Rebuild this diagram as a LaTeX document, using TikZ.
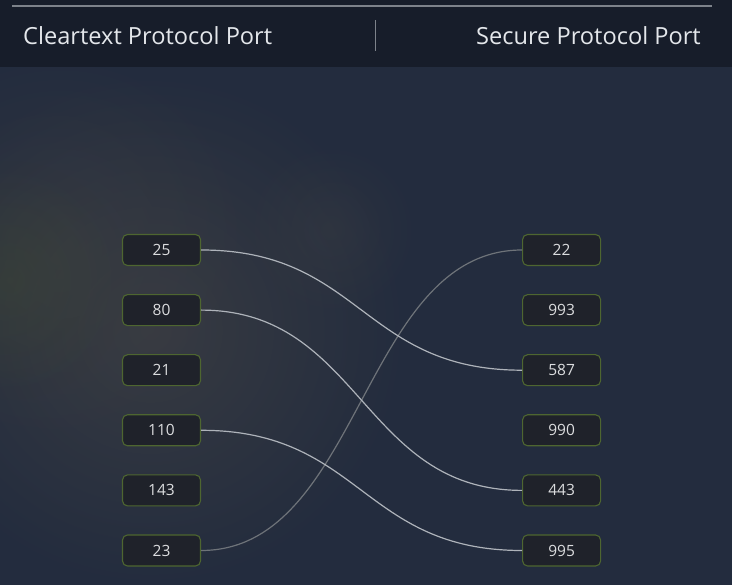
\documentclass[tikz,border=0pt]{standalone}
\usepackage{fontspec}
\setmainfont{Open Sans}
\usepackage{xcolor}
\usepackage{tikz}
\usetikzlibrary{positioning,fadings}
\definecolor{cHeadBg}{HTML}{171D2A}
\definecolor{cBodyBg}{HTML}{232C3E}
\definecolor{cHaze}{HTML}{3D3F43}
\definecolor{cHazeG}{HTML}{3E4832}
\definecolor{cRule}{HTML}{7D828A}
\definecolor{cTitle}{HTML}{E4E7EB}
\definecolor{cPort}{HTML}{1F222A}
\definecolor{cPortB}{HTML}{4E6630}
\definecolor{cPortT}{HTML}{DCDDDF}
\definecolor{cLink}{HTML}{AEB3BA}
\definecolor{cLinkDim}{HTML}{6E7379}
\tikzfading[name=blob,inner color=transparent!0,outer color=transparent!100]

\begin{document}
\begin{tikzpicture}[
  x=1pt,y=-1pt,
  node distance=28pt and 321pt,
  port/.style={rounded corners=5pt,draw=cPortB,fill=cPort,line width=1.1pt,
    minimum width=78pt,minimum height=31pt,inner sep=0pt,text=cPortT,font=\fontsize{15.5}{17}\selectfont},
  coltitle/.style={text=cTitle,font=\fontsize{23.6}{28}\selectfont,inner sep=0pt},
  link/.style={draw=cLink,line width=1.2pt},
  dimlink/.style={draw=cLinkDim,line width=1.2pt},
  swoop/.style={out=0,in=180,distance=160pt},
]
\useasboundingbox (0,0) rectangle (732,585);

% ---------------------------------------------------------------------
% background and header band
% ---------------------------------------------------------------------
\fill[cBodyBg] (0,67) rectangle (732,585);
\fill[cHaze,path fading=blob,fill opacity=0.8] (150,330) circle (260);
\fill[cHaze,path fading=blob,fill opacity=0.5] (60,250) circle (200);
\fill[cHazeG,path fading=blob,fill opacity=0.4] (10,280) circle (120);
\fill[cHaze,path fading=blob,fill opacity=0.35] (330,230) circle (90);
\fill[cHeadBg] (0,0) rectangle (732,67);
\draw[cRule,line width=1.2pt] (12,6) -- (712,6);

\node[coltitle,anchor=west] (clearTitle) at (23,36) {Cleartext Protocol Port};
\node[coltitle,anchor=east] (secureTitle) at (701,36) {Secure Protocol Port};
\draw[cRule,line width=0.8pt] (375,20) -- (375,51);

% ---------------------------------------------------------------------
% port columns
% ---------------------------------------------------------------------
\node[port] (p25) at (161.5,250) {25};
\node[port,below=of p25] (p80) {80};
\node[port,below=of p80] (p21) {21};
\node[port,below=of p21] (p110) {110};
\node[port,below=of p110] (p143) {143};
\node[port,below=of p143] (p23) {23};

\node[port,right=of p25] (p22) {22};
\node[port,right=of p80] (p993) {993};
\node[port,right=of p21] (p587) {587};
\node[port,right=of p110] (p990) {990};
\node[port,right=of p143] (p443) {443};
\node[port,right=of p23] (p995) {995};

% ---------------------------------------------------------------------
% links
% ---------------------------------------------------------------------
\draw[dimlink] (p23.east) to[swoop] (p22.west);
\draw[link] (p25.east) to[swoop] (p587.west);
\draw[link] (p80.east) to[swoop] (p443.west);
\draw[link] (p110.east) to[swoop] (p995.west);

\end{tikzpicture}
\end{document}
